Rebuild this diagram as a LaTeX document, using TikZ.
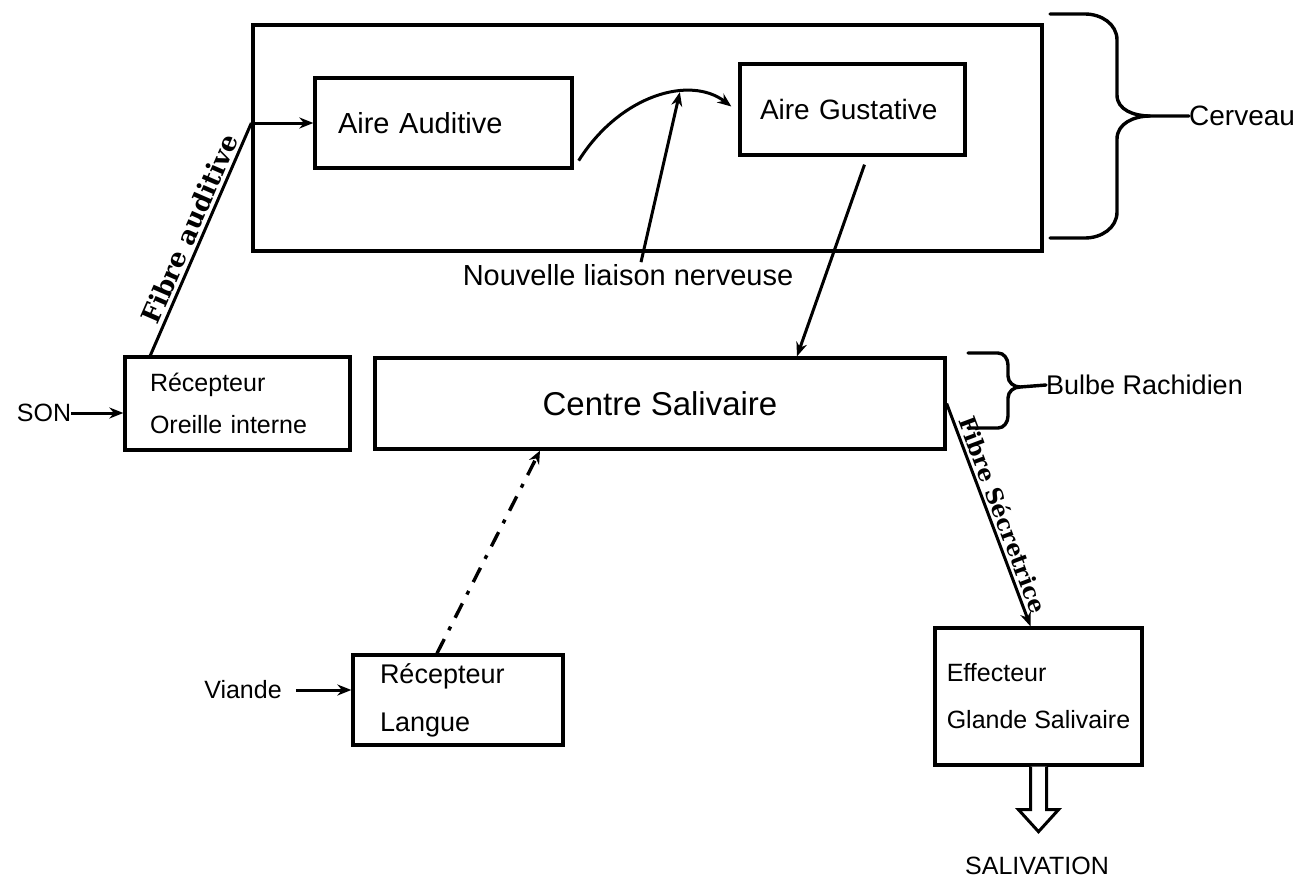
\documentclass[tikz,border=0pt]{standalone}
\usepackage{fontspec}
\setmainfont{Liberation Sans}
\newfontfamily\fibfont{DejaVu Serif}
\usetikzlibrary{arrows.meta,calc}
\tikzset{
  blk/.style={draw, line width=3.3pt, inner ysep=0pt},
  arr/.style={line width=3pt, -{Stealth[length=14pt,width=11pt]}},
  lbl/.style={inner sep=0pt},
  fib/.style={inner sep=3pt},
  bracestyle/.style={line width=3.4pt, line cap=round, line join=round},
}
\begin{document}
\begin{tikzpicture}[x=1pt,y=-1pt]
\useasboundingbox (0,0) rectangle (1304,879);
\fill[white] (0,0) rectangle (1304,879);

% boxes
\node[blk, minimum width=789pt, minimum height=226pt] (cerv) at (647.5,138) {};
\node[blk, minimum width=257pt, minimum height=90pt, inner xsep=23pt, text width=211pt, align=left,
      font=\fontsize{29}{34}\selectfont] (aa) at (443.5,123) {Aire Auditive};
\node[blk, minimum width=225pt, minimum height=91pt, inner xsep=20pt, text width=185pt, align=left,
      font=\fontsize{28}{32}\selectfont] (ag) at (852.5,109.5) {Aire Gustative};
\node[blk, minimum width=570pt, minimum height=91pt, font=\fontsize{33}{38}\selectfont] (cs) at (660,403.5) {Centre Salivaire};
\node[blk, minimum width=225pt, minimum height=93pt, inner xsep=25pt, text width=175pt, align=left,
      font=\fontsize{25}{42}\selectfont] (reco) at (237.5,403.5) {Récepteur\\Oreille interne};
\node[blk, minimum width=210pt, minimum height=90pt, inner xsep=27pt, text width=156pt, align=left,
      font=\fontsize{27}{48}\selectfont] (lang) at (458,700) {Récepteur\\Langue};
\node[blk, minimum width=207pt, minimum height=137pt, inner xsep=6pt, align=left,
      font=\fontsize{25}{47}\selectfont] (eff) at (1038.5,696.5) {Effecteur\\Glande Salivaire};

% labels
\node[lbl, font=\fontsize{25}{28}\selectfont] (son) at (44,413) {SON};
\node[lbl, font=\fontsize{25}{28}\selectfont] (viande) at (243,690) {Viande};
\node[lbl, font=\fontsize{29}{32}\selectfont] (nl) at (628,275) {Nouvelle liaison nerveuse};
\node[lbl, font=\fontsize{25}{28}\selectfont] (salv) at (1037,866) {SALIVATION};
\node[lbl, anchor=west, font=\fontsize{28}{32}\selectfont] (cerlbl) at (1189,116) {Cerveau};
\node[lbl, anchor=west, font=\fontsize{27}{30}\selectfont] (bulbe) at (1046,385) {Bulbe Rachidien};

% braces
\draw[bracestyle] (1050,14) -- (1085,14) to[out=0,in=90] (1117,40) -- (1117,95)
   to[out=-90,in=180] (1150,116) -- (cerlbl.west);
\draw[bracestyle] (1150,116) to[out=180,in=90] (1117,139) -- (1117,212)
   to[out=-90,in=0] (1085,238) -- (1050,238);
\draw[bracestyle] (968,353) -- (998,353) to[out=0,in=90] (1008,365) -- (1008,376)
   to[out=-90,in=180] (1020,387) -- (bulbe.west);
\draw[bracestyle] (1020,387) to[out=180,in=90] (1008,398) -- (1008,416)
   to[out=-90,in=0] (998,428) -- (968,428);

% connectors
\coordinate (fa) at (cerv.west |- aa.west);
\draw[line width=3pt] ($(reco.north west)+(27,0)$) -- (fa)
   node[pos=0.52, sloped, above, fib, font=\fibfont\bfseries\fontsize{26}{28}\selectfont] {Fibre auditive};
\draw[arr] (fa) -- (aa.west);

\draw[arr] ($(aa.south east)+(5,-9)$) .. controls (620,95) and (690,75) .. ($(ag.west)+(-7,-3)$)
   coordinate[pos=0.65] (nlpt);
\draw[arr] ($(nl.north)+(13,-2)$) -- (nlpt);

\draw[arr] ($(ag.south)+(12,8)$) -- ($(cs.north)+(137,0)$);

\draw[arr] (son.east) -- (son.east -| reco.west);
\draw[arr] ($(viande.east)+(14,0)$) -- (viande.east -| lang.west);

\draw[line width=3.4pt, dash pattern=on 16pt off 10pt on 4pt off 10pt, -{Stealth[length=13pt,width=11pt]}]
   ($(lang.north)+(-21,0)$) -- ($(cs.south)+(-120,0)$);

\draw[arr] (cs.east) -- ($(eff.north)+(-8,0)$)
   node[pos=0.52, sloped, above, fib, font=\fibfont\bfseries\fontsize{23}{26}\selectfont] {Fibre Sécretrice};

\draw[line width=3pt, fill=white] ($(eff.south)+(-8,0)$) -- ++(0,43) -- ++(-12,0) -- ++(20,22)
   -- ++(20,-22) -- ++(-12,0) -- ++(0,-43);
\end{tikzpicture}
\end{document}
